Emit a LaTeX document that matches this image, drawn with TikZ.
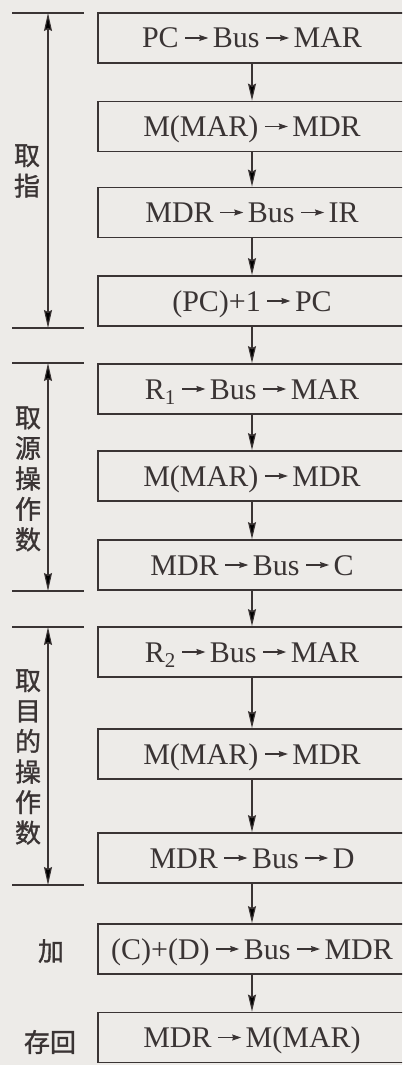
\documentclass[tikz,border=0pt]{standalone}
\usepackage{fontspec}
\setmainfont{Liberation Serif}
\newfontfamily\cjk[FakeBold=1.2]{Noto Sans CJK SC}
\usetikzlibrary{arrows.meta}
\definecolor{bg}{RGB}{237,235,232}
\definecolor{ink}{RGB}{58,52,52}
\newcommand\rarr{\hspace{6pt}\tikz[x=1pt,y=1pt,baseline=-10pt]\draw[ink,line width=1.1pt,-{Stealth[length=9pt,width=6pt,inset=1pt]}] (0,0)--(23,0);\hspace{4pt}}
\tikzset{
  stepbox/.style={draw=ink,line width=1.8pt,minimum width=308pt,minimum height=50pt,
    text height=20pt,text depth=0pt,inner sep=0pt,text=ink,
    font=\fontsize{30}{30}\selectfont},
  conn/.style={draw=ink,line width=1.2pt,-{Stealth[length=17pt,width=8pt,inset=2pt]}},
  brk/.style={draw=ink,line width=1.1pt},
  brkarr/.style={draw=ink,line width=1.1pt,{Stealth[length=18pt,width=8pt,inset=2pt]}-{Stealth[length=18pt,width=8pt,inset=2pt]}},
  lab/.style={text=ink,align=center,inner sep=0pt,font=\cjk\fontsize{26}{30.5}\selectfont}
}
\begin{document}
\begin{tikzpicture}[x=1pt,y=-1pt]
\useasboundingbox (0,0) rectangle (402,1065);
\clip (0,0) rectangle (402,1065);
\fill[bg] (0,0) rectangle (402,1065);
% boxes
\node[stepbox] (b1) at (252,38) {PC\rarr Bus\rarr MAR};
\node[stepbox] (b2) at (252,126.5) {M(MAR)\rarr MDR};
\node[stepbox] (b3) at (252,212.5) {MDR\rarr Bus\rarr IR};
\node[stepbox] (b4) at (252,301) {(PC)+1\rarr PC};
\node[stepbox] (b5) at (252,389) {R\textsubscript{1}\rarr Bus\rarr MAR};
\node[stepbox] (b6) at (252,476) {M(MAR)\rarr MDR};
\node[stepbox] (b7) at (252,565) {MDR\rarr Bus\rarr C};
\node[stepbox] (b8) at (252,652) {R\textsubscript{2}\rarr Bus\rarr MAR};
\node[stepbox] (b9) at (252,754) {M(MAR)\rarr MDR};
\node[stepbox] (b10) at (252,858) {MDR\rarr Bus\rarr D};
\node[stepbox] (b11) at (252,949) {(C)+(D)\rarr Bus\rarr MDR};
\node[stepbox] (b12) at (252,1037.5) {MDR\rarr M(MAR)};
% connectors
\foreach \a/\b in {b1/b2,b2/b3,b3/b4,b4/b5,b5/b6,b6/b7,b7/b8,b8/b9,b9/b10,b10/b11,b11/b12}
  \draw[conn] (\a.south) -- (\b.north);
% brackets
\coordinate (s1) at (48,13);  \coordinate (e1) at (48,328);
\coordinate (s2) at (48,363); \coordinate (e2) at (48,591);
\coordinate (s3) at (48,627); \coordinate (e3) at (48,885);
\foreach \c in {s1,e1,s2,e2,s3,e3}
  \draw[brk] ([xshift=-36pt]\c) -- ([xshift=36pt]\c);
\draw[brkarr] (s1) -- (e1);
\draw[brkarr] (s2) -- (e2);
\draw[brkarr] (s3) -- (e3);
% labels
\node[lab] (l1) at (27,171) {取\\指};
\node[lab] (l2) at (28,479) {取\\源\\操\\作\\数};
\node[lab] (l3) at (28,757) {取\\目\\的\\操\\作\\数};
\node[lab] (l4) at (51,951) {加};
\node[lab] (l5) at (50,1042) {存回};
\end{tikzpicture}
\end{document}
